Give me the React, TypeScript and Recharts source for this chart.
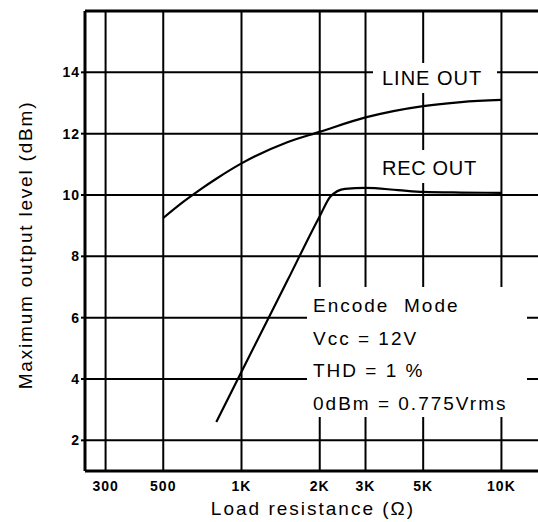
import { CartesianGrid, Line, LineChart, ReferenceLine, XAxis, YAxis } from "recharts";

// load resistance (ohm) and max output level (dBm)
const lineOutOhm = [500, 600, 700, 800, 1000, 1500, 2000, 3000, 5000, 7000, 10000];
const lineOutDbm = [9.25, 9.79, 10.2, 10.53, 11.03, 11.72, 12.06, 12.53, 12.9, 13.03, 13.1];
const recOutOhm = [800, 1000, 1500, 2000, 2200, 2500, 3000, 4000, 5000, 7000, 10000];
const recOutDbm = [2.6, 4.24, 7.2, 9.31, 9.95, 10.2, 10.23, 10.16, 10.1, 10.08, 10.07];

const xTicks = [300, 500, 1000, 2000, 3000, 5000, 10000];
const xTickLabels = ["300", "500", "1K", "2K", "3K", "5K", "10K"];
const yTicks = [2, 4, 6, 8, 10, 12, 14];

const noteLines = ["Encode  Mode", "Vcc = 12V", "THD = 1 %", "0dBm = 0.775Vrms"];

const lineOut = lineOutOhm.map((r, i) => ({ r, v: lineOutDbm[i] }));
const recOut = recOutOhm.map((r, i) => ({ r, v: recOutDbm[i] }));

const font = "'Liberation Sans', Arial, sans-serif";

const tickStyle = { fill: "#000", fontSize: 14, fontWeight: 700, fontFamily: font, letterSpacing: 1 };

function YTitle({ viewBox }: any) {
  const cx = viewBox.x + 25;
  const cy = viewBox.y + viewBox.height / 2 + 4;
  return (
    <text
      x={cx}
      y={cy}
      transform={`rotate(-90 ${cx} ${cy})`}
      textAnchor="middle"
      dominantBaseline="central"
      fontSize={19}
      fontFamily={font}
      letterSpacing={1.8}
      fill="#000"
    >
      Maximum output level (dBm)
    </text>
  );
}

function XTitle({ viewBox }: any) {
  return (
    <text
      x={viewBox.x + 228}
      y={viewBox.y + 44}
      textAnchor="middle"
      fontSize={19}
      fontFamily={font}
      letterSpacing={2}
      fill="#000"
    >
      Load resistance (Ω)
    </text>
  );
}

export default function App() {
  return (
    <div
      style={{
        position: "absolute",
        left: 0,
        top: 0,
        width: 538,
        height: 522,
        overflow: "hidden",
        background: "#fff",
      }}
    >
      <LineChart width={560} height={522} margin={{ top: 11, right: 0, bottom: 0, left: 0 }}>
        <CartesianGrid stroke="#000" strokeWidth={2} />
        <XAxis
          dataKey="r"
          type="number"
          scale="log"
          domain={[250, 16800]}
          ticks={xTicks}
          tickFormatter={(v: number) => xTickLabels[xTicks.indexOf(v)] ?? String(v)}
          height={51}
          tickLine={false}
          tickSize={0}
          tickMargin={10}
          axisLine={{ stroke: "#000", strokeWidth: 3 }}
          tick={tickStyle}
          interval={0}
          label={<XTitle />}
        />
        <YAxis
          type="number"
          domain={[1, 16]}
          ticks={yTicks}
          width={85}
          tickSize={4}
          tickMargin={1}
          tickLine={{ stroke: "#000", strokeWidth: 2 }}
          axisLine={{ stroke: "#000", strokeWidth: 3 }}
          tick={tickStyle}
          interval={0}
          label={<YTitle />}
        />
        <ReferenceLine y={16} stroke="#000" strokeWidth={3} />
        <Line
          data={lineOut}
          dataKey="v"
          type="monotone"
          stroke="#000"
          strokeWidth={2.2}
          dot={false}
          isAnimationActive={false}
        />
        <Line
          data={recOut}
          dataKey="v"
          type="monotone"
          stroke="#000"
          strokeWidth={2.2}
          dot={false}
          isAnimationActive={false}
        />
      </LineChart>
      <svg
        width={538}
        height={522}
        style={{ position: "absolute", left: 0, top: 0, pointerEvents: "none" }}
        fontFamily={font}
        fill="#000"
      >
        <rect x={373} y={63} width={124} height={30} fill="#fff" />
        <text x={382} y={85} fontSize={20} letterSpacing={1}>
          LINE  OUT
        </text>
        <rect x={375} y={150} width={115} height={33} fill="#fff" />
        <text x={382} y={175} fontSize={20} letterSpacing={0.7}>
          REC  OUT
        </text>
        <rect x={307} y={287} width={220} height={130} fill="#fff" />
        {noteLines.map((t, i) => (
          <text key={t} x={313} y={312 + i * 32.7} fontSize={19} letterSpacing={2} style={{ whiteSpace: "pre" }}>
            {t}
          </text>
        ))}
      </svg>
    </div>
  );
}
